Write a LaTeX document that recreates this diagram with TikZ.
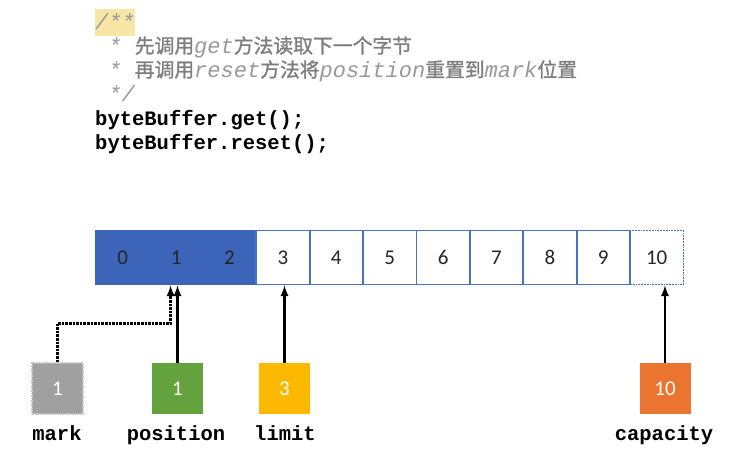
\documentclass[tikz,border=0pt]{standalone}
\usepackage{fontspec}
\setmainfont{Carlito}
\setmonofont{Liberation Mono}
\newfontfamily\cjk[Scale=0.9, FakeBold=1.2]{Noto Sans CJK SC}
\usepackage{tikz}
\usetikzlibrary{arrows}

\definecolor{bufblue}{HTML}{3C64B8}
\definecolor{celledge}{HTML}{4A72C4}
\definecolor{markgray}{HTML}{A0A0A0}
\definecolor{posgreen}{HTML}{63A23D}
\definecolor{limgold}{HTML}{FDB900}
\definecolor{caporange}{HTML}{EA7430}
\definecolor{cmtgray}{HTML}{999999}
\definecolor{zhgray}{HTML}{7E7E7E}
\definecolor{hlyellow}{HTML}{F6E7A6}

\newcommand{\cmtfont}{\fontsize{22}{24}\selectfont\ttfamily\itshape\color{cmtgray}}
\newcommand{\codefont}{\fontsize{20.5}{24}\selectfont\ttfamily\bfseries}
\newcommand{\zh}[1]{{\cjk\upshape\mdseries\color{zhgray}#1}}

\tikzset{
	cell/.style={draw=celledge, line width=1.8pt, minimum width=53.4pt, minimum height=54pt,
		inner sep=0pt, font=\fontsize{21}{24}\selectfont, text=black!85},
	readcell/.style={cell, draw=bufblue, fill=bufblue},
	freecell/.style={cell, densely dotted},
	ptrbox/.style={minimum width=51pt, minimum height=51pt, inner sep=0pt,
		font=\fontsize{21}{24}\selectfont, text=white},
	ptrlabel/.style={anchor=base, inner sep=0pt, font=\codefont},
	codeline/.style={anchor=base west, inner sep=0pt}
}

\begin{document}
\begin{tikzpicture}[x=1pt, y=-1pt]
		\useasboundingbox[fill=white] (0,0) rectangle (736,455);
		% code and comment
		\node [codeline, fill=hlyellow, inner ysep=4pt, text depth=3pt] (c1) at (95,29) {\cmtfont /**};
		\node [codeline] (c2) at (95,53) {\cmtfont \ * \zh{先调用}get\zh{方法读取下一个字节}};
		\node [codeline] (c3) at (95,77) {\cmtfont \ * \zh{再调用}reset\zh{方法将}position\zh{重置到}mark\zh{位置}};
		\node [codeline] (c4) at (95,101) {\cmtfont \ */};
		\node [codeline] (c5) at (95,125) {\codefont byteBuffer.get();};
		\node [codeline] (c6) at (95,149) {\codefont byteBuffer.reset();};
		% buffer cells
		\foreach \i in {0,...,2} {
			\node [readcell] (b\i) at (96+26.7+53.4*\i,257.5) {\i};
		}
		\foreach \i in {3,...,9} {
			\node [cell] (b\i) at (96+26.7+53.4*\i,257.5) {\i};
		}
		\node [freecell] (b10) at (96+26.7+534,257.5) {10};
		% pointers
		\node [ptrbox, fill=markgray, draw=markgray!60, densely dotted, line width=1.5pt] (mark) at (57.5,388.5) {1};
		\node [ptrbox, fill=posgreen] (pos) at (177.5,388.5) {1};
		\node [ptrbox, fill=limgold] (lim) at (284.5,388.5) {3};
		\node [ptrbox, fill=caporange] (cap) at (665,388.5) {10};
		\node [ptrlabel] (markl) at (57,440) {mark};
		\node [ptrlabel] (posl) at (176,440) {position};
		\node [ptrlabel] (liml) at (285,440) {limit};
		\node [ptrlabel] (capl) at (664,440) {capacity};
		\draw [line width=2.6pt, densely dotted, arrows={-latex}] (mark.north) -- ++(0,-39) -| ([xshift=-5.5pt]b1.south);
		\draw [line width=2.6pt, arrows={-latex}] (pos.north) -- (pos.north |- b1.south);
		\draw [line width=2.6pt, arrows={-latex}] (lim.north) -- (lim.north |- b3.south);
		\draw [line width=2.6pt, arrows={-latex}] (cap.north) -- (cap.north |- b10.south);
	\end{tikzpicture}
\end{document}
